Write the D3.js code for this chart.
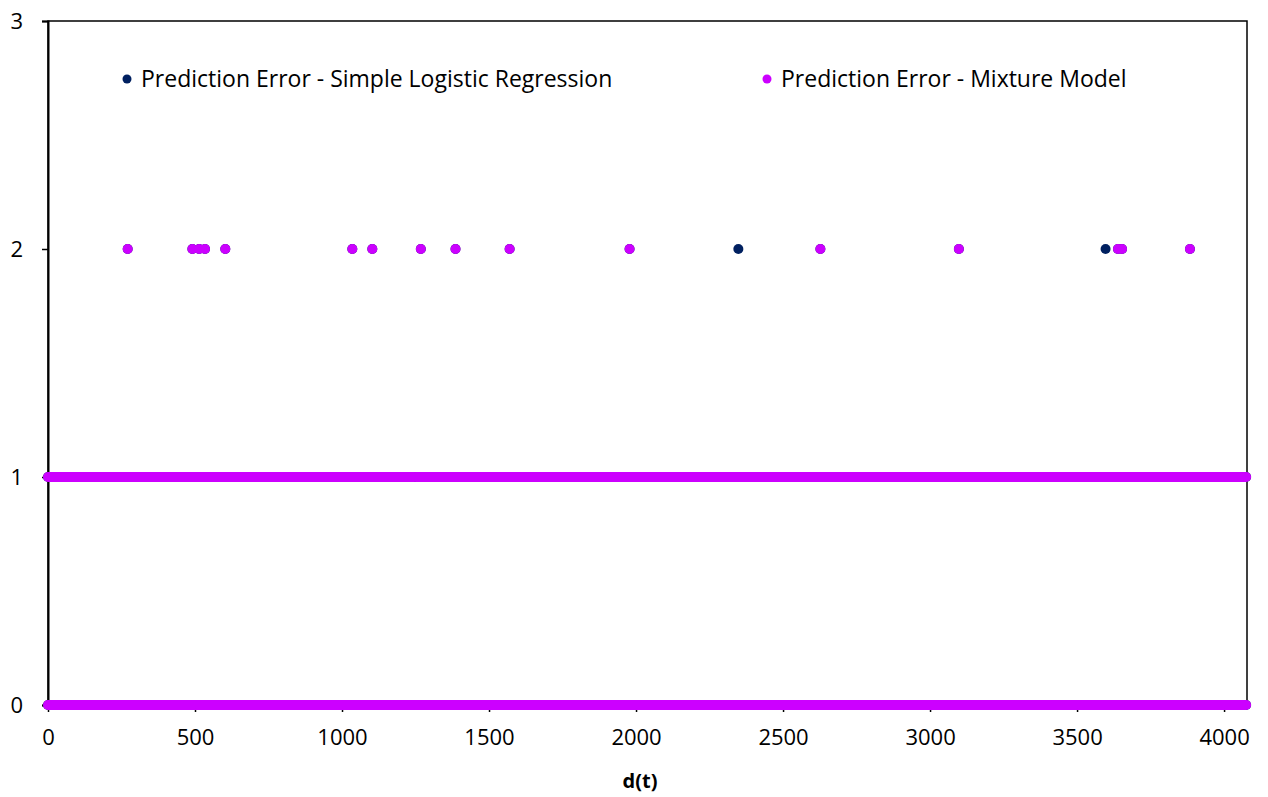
<!DOCTYPE html>
<html>
<head>
<meta charset="utf-8">
<script src="https://cdn.jsdelivr.net/npm/d3@7"></script>
<style>
  html, body { margin: 0; padding: 0; background: #fff; }
  svg { display: block; }
  text { font-family: "Open Sans", "Noto Sans", sans-serif; fill: #000; }
</style>
</head>
<body>
<svg id="chart" width="1268" height="797"></svg>
<script>
// d(t) domain and tick values
const xTicks = [0, 500, 1000, 1500, 2000, 2500, 3000, 3500, 4000];
const yTicks = [0, 1, 2, 3];

// Dense error levels: each series has observations at error 0 and error 1
// over these d(t) spans [start, end]
const slrLevel0Runs = [[0, 4075]];
const slrLevel1Runs = [[0, 1245], [1252, 4075]];
const mixLevel0Runs = [[0, 4075]];
const mixLevel1Runs = [[0, 1245], [1252, 4075]];

// Sparse error = 2 observations (d(t) values)
const slrError2 = [271, 491, 514, 534, 603, 1035, 1103, 1268, 1386, 1570, 1978, 2348, 2627, 3098, 3597, 3639, 3653, 3884];
const mixError2 = [271, 491, 514, 534, 603, 1035, 1103, 1268, 1386, 1570, 1978, 2627, 3098, 3639, 3653, 3884];

const seriesNames = ["Prediction Error - Simple Logistic Regression", "Prediction Error - Mixture Model"];
const seriesColors = ["#002060", "#CC00FF"];

const svg = d3.select("#chart");
const margin = { left: 48, top: 21, right: 1247, bottom: 705 };

const x = d3.scaleLinear().domain([0, 4078]).range([margin.left, margin.right]);
const y = d3.scaleLinear().domain([0, 3]).range([margin.bottom, margin.top]);

const R = 5;

// Plot frame
svg.append("rect")
  .attr("x", margin.left).attr("y", margin.top)
  .attr("width", margin.right - margin.left)
  .attr("height", margin.bottom - margin.top)
  .attr("fill", "none").attr("stroke", "#000").attr("stroke-width", 1.5);

// Y axis
const yAxis = svg.append("g")
  .attr("transform", `translate(${margin.left},0)`)
  .call(d3.axisLeft(y).tickValues(yTicks).tickFormat(d3.format("d")).tickSize(6).tickPadding(19));
yAxis.select(".domain").attr("stroke", "#000").attr("stroke-width", 2);
yAxis.selectAll(".tick line").attr("stroke", "#000").attr("stroke-width", 1.5);
yAxis.selectAll(".tick text").style("font-size", "22px").style("font-family", "'Open Sans', sans-serif").attr("fill", "#000");

// X axis
const xAxis = svg.append("g")
  .attr("transform", `translate(0,${margin.bottom})`)
  .call(d3.axisBottom(x).tickValues(xTicks).tickFormat(d3.format("d")).tickSize(7).tickPadding(17));
xAxis.select(".domain").attr("stroke", "none");
xAxis.selectAll(".tick line").attr("stroke", "#000").attr("stroke-width", 1.5);
xAxis.selectAll(".tick text").style("font-size", "22px").style("font-family", "'Open Sans', sans-serif").attr("fill", "#000");

// X axis title
svg.append("text")
  .attr("x", 640).attr("y", 788)
  .attr("text-anchor", "middle")
  .style("font-size", "20px").style("font-weight", "bold")
  .text("d(t)");

// Dense levels drawn as runs of overlapping markers
function drawRuns(runs, level, color) {
  svg.append("g").selectAll("line")
    .data(runs).join("line")
    .attr("x1", d => x(d[0])).attr("x2", d => x(d[1]))
    .attr("y1", y(level)).attr("y2", y(level))
    .attr("stroke", color).attr("stroke-width", 2 * R)
    .attr("stroke-linecap", "round");
}
function drawPoints(xs, level, color) {
  svg.append("g").selectAll("circle")
    .data(xs).join("circle")
    .attr("cx", d => x(d)).attr("cy", y(level))
    .attr("r", R).attr("fill", color);
}

// Simple logistic regression (underneath)
drawRuns(slrLevel0Runs, 0, seriesColors[0]);
drawRuns(slrLevel1Runs, 1, seriesColors[0]);
drawPoints(slrError2, 2, seriesColors[0]);

// Mixture model (on top)
drawRuns(mixLevel0Runs, 0, seriesColors[1]);
drawRuns(mixLevel1Runs, 1, seriesColors[1]);
drawPoints(mixError2, 2, seriesColors[1]);

// Legend
const legendX = [127, 767];
const legend = svg.append("g").selectAll("g")
  .data(seriesNames).join("g")
  .attr("transform", (d, i) => `translate(${legendX[i]},79)`);
legend.append("circle").attr("r", 4.5).attr("fill", (d, i) => seriesColors[i]);
legend.append("text")
  .attr("x", 14).attr("y", 8)
  .style("font-size", "23px")
  .text(d => d);
</script>
</body>
</html>
